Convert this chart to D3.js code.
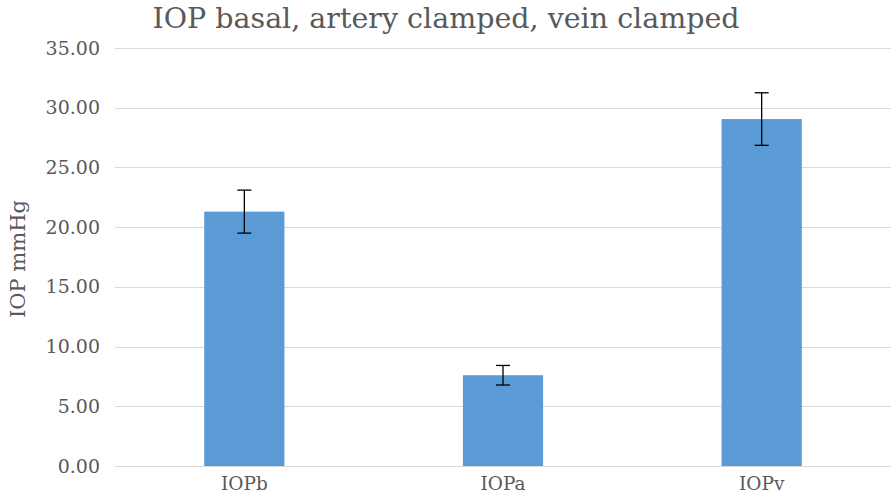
<!DOCTYPE html>
<html><head><meta charset="utf-8">
<script src="https://cdn.jsdelivr.net/npm/d3@7"></script>
<style>body{margin:0;background:#fff}</style>
</head><body>
<svg id="c" width="894" height="497"></svg>
<script>
const categories = ["IOPb", "IOPa", "IOPv"];
const values = [21.3, 7.6, 29.05];
const errors = [1.8, 0.82, 2.2];
const yTicks = [0, 5, 10, 15, 20, 25, 30, 35];
const title = "IOP basal, artery clamped, vein clamped";
const yTitle = "IOP mmHg";

const svg = d3.select("#c");
const m = {left: 115, right: 891, top: 48, bottom: 466};
const x = d3.scaleBand().domain(categories).range([m.left, m.right]).paddingInner(0.69).paddingOuter(0.345);
const y = d3.scaleLinear().domain([0, 35]).range([m.bottom, m.top]);
const serif = "'DejaVu Serif', serif";

// gridlines
svg.append("g").selectAll("line").data(yTicks).join("line")
  .attr("x1", m.left).attr("x2", m.right)
  .attr("y1", d => Math.round(y(d)) + 0.5).attr("y2", d => Math.round(y(d)) + 0.5)
  .attr("stroke", "#d9d9d9").attr("stroke-width", 1);

// y axis labels
const yAxis = d3.axisLeft(y).tickValues(yTicks).tickFormat(d3.format(".2f")).tickSize(0).tickPadding(15);
const ya = svg.append("g").attr("transform", `translate(${m.left},0)`).call(yAxis);
ya.select(".domain").remove();
ya.selectAll("text").attr("font-family", serif).attr("font-size", 19).attr("fill", "#595959");

// bars
svg.append("g").selectAll("rect").data(categories).join("rect")
  .attr("x", d => x(d)).attr("width", x.bandwidth())
  .attr("y", (d, i) => y(values[i])).attr("height", (d, i) => y(0) - y(values[i]))
  .attr("fill", "#5b9bd5");

// baseline
svg.append("line").attr("x1", m.left).attr("x2", m.right)
  .attr("y1", Math.round(y(0)) + 0.5).attr("y2", Math.round(y(0)) + 0.5)
  .attr("stroke", "#d9d9d9");

// error bars
const eb = svg.append("g").attr("stroke", "#000").attr("stroke-width", 1.3);
categories.forEach((c, i) => {
  const cx = x(c) + x.bandwidth() / 2;
  const t = y(values[i] + errors[i]), b = y(values[i] - errors[i]);
  eb.append("line").attr("x1", cx).attr("x2", cx).attr("y1", t).attr("y2", b);
  eb.append("line").attr("x1", cx - 7).attr("x2", cx + 7).attr("y1", t).attr("y2", t);
  eb.append("line").attr("x1", cx - 7).attr("x2", cx + 7).attr("y1", b).attr("y2", b);
});

// x axis labels
const xAxis = d3.axisBottom(x).tickSize(0).tickPadding(11);
const xa = svg.append("g").attr("transform", `translate(0,${m.bottom})`).call(xAxis);
xa.select(".domain").remove();
xa.selectAll("text").attr("font-family", serif).attr("font-size", 18.5).attr("fill", "#595959");

// title
svg.append("text").attr("x", 446).attr("y", 28).attr("text-anchor", "middle")
  .attr("font-family", serif).attr("font-size", 28.5).attr("fill", "#595959").text(title);

// y title
svg.append("text").attr("transform", `translate(25,259) rotate(-90)`).attr("text-anchor", "middle")
  .attr("font-family", serif).attr("font-size", 21).attr("fill", "#595959").text(yTitle);
</script>
</body></html>
